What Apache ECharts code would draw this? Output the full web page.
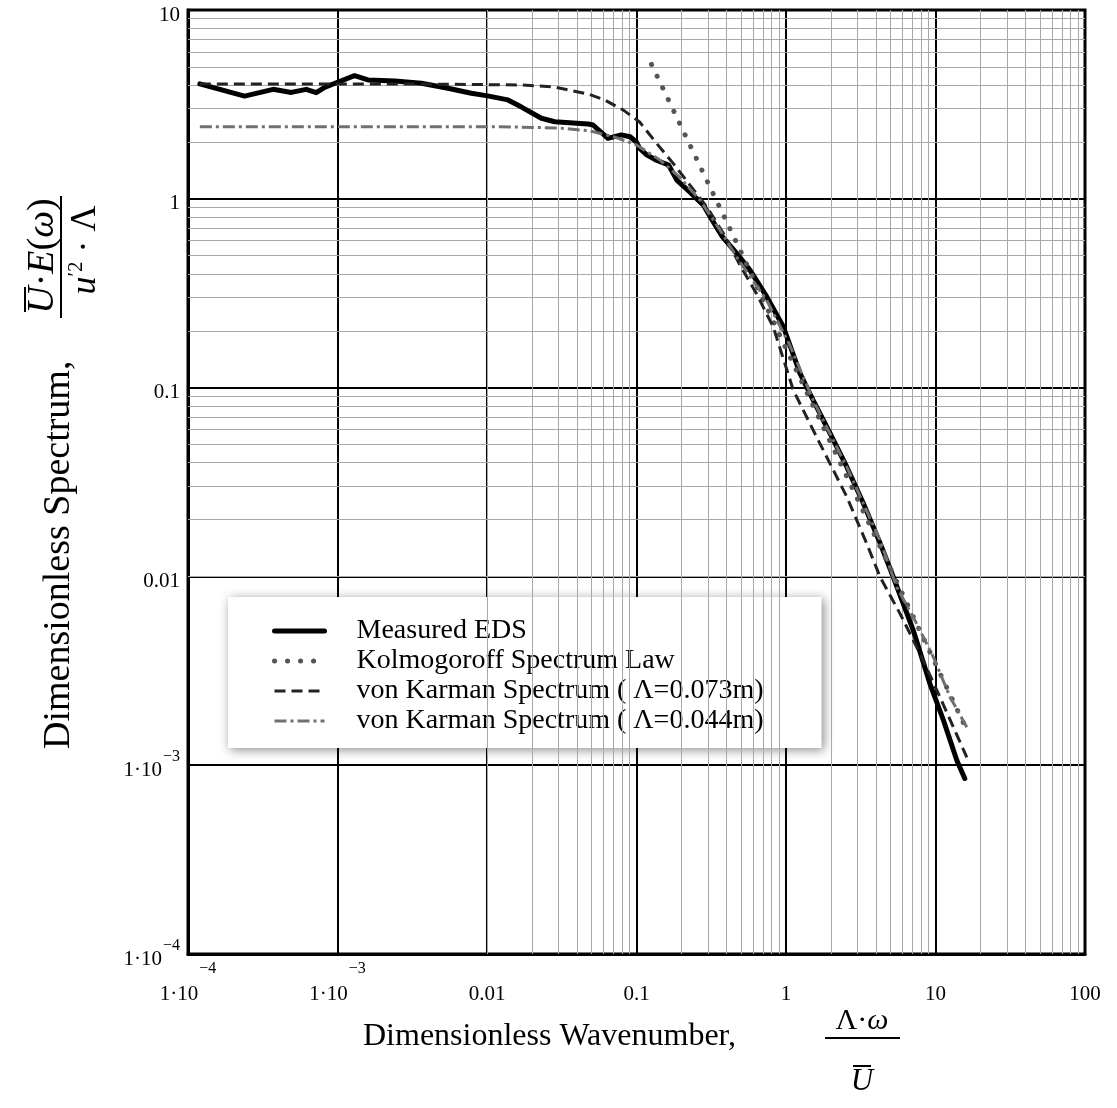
<!DOCTYPE html>
<html><head><meta charset="utf-8">
<script src="https://cdn.jsdelivr.net/npm/echarts@6/dist/echarts.min.js"></script>
<style>html,body{margin:0;padding:0;background:#fff}#c{width:1117px;height:1108px}</style>
</head><body><div id="c"></div>
<script>
// ---------- data ----------
const measuredX = [1.20e-4, 2.39e-4, 3.71e-4, 4.91e-4, 6.18e-4, 7.21e-4, 8.20e-4, 9.82e-4, 1.30e-3, 1.60e-3,
  2.42e-3, 3.64e-3, 5.48e-3, 7.85e-3, 9.88e-3, 0.0138, 0.0169, 0.0231, 0.0284, 0.0474,
  0.0512, 0.0644, 0.0791, 0.0906, 0.0998, 0.105, 0.117, 0.136, 0.164, 0.186,
  0.228, 0.280, 0.311, 0.375, 0.468, 0.574, 0.743, 0.960, 1.24, 1.52,
  1.97, 2.55, 3.29, 4.26, 5.22, 7.10, 9.18, 11.3, 13.9, 15.7];
const measuredY = [4.06, 3.50, 3.80, 3.66, 3.80, 3.65, 3.89, 4.12, 4.49, 4.26,
  4.21, 4.09, 3.85, 3.62, 3.52, 3.34, 3.07, 2.67, 2.56, 2.49,
  2.46, 2.09, 2.18, 2.13, 2.00, 1.85, 1.71, 1.60, 1.51, 1.256,
  1.085, 0.926, 0.803, 0.63, 0.514, 0.419, 0.303, 0.210, 0.119, 0.0857,
  0.0573, 0.0380, 0.0244, 0.0150, 9.93e-3, 5.18e-3, 2.70e-3, 1.73e-3, 1.06e-3, 8.51e-4];

const kolmoX = [0.126, 0.5, 1, 5, 16.0];
const kolmoY = [5.15, 0.523, 0.161, 0.0110, 1.57e-3];

const karman073X = [1.20e-4, 2.62e-3, 0.0166, 0.0284, 0.0474, 0.0612, 0.0817, 0.105, 0.136, 0.176,
  0.228, 0.295, 0.381, 0.492, 0.637, 0.822, 1.12, 1.52, 1.97, 2.55,
  3.47, 4.26, 5.79, 7.87, 10.7, 16.2];
const karman073Y = [4.06, 4.06, 4.01, 3.91, 3.59, 3.34, 2.95, 2.55, 1.97, 1.54,
  1.18, 0.907, 0.656, 0.446, 0.313, 0.209, 0.0968, 0.0595, 0.0396, 0.0264,
  0.0149, 9.93e-3, 6.35e-3, 3.90e-3, 2.30e-3, 1.10e-3];

const karman044X = [1.20e-4, 0.0122, 0.0308, 0.0489, 0.0718, 0.100, 0.144, 0.195, 0.266, 0.362,
  0.492, 0.743, 1.06, 1.52, 2.55, 4.26, 5.50, 7.48, 9.67, 12.5, 16.2];
const karman044Y = [2.41, 2.41, 2.37, 2.29, 2.12, 1.93, 1.60, 1.30, 0.984, 0.682,
  0.462, 0.290, 0.168, 0.0857, 0.0380, 0.0155, 8.79e-3, 5.62e-3, 3.74e-3, 2.30e-3, 1.59e-3];

const seriesNames = ['Measured EDS', 'Kolmogoroff Spectrum Law',
  'von Karman Spectrum ( \u039B=0.073m)', 'von Karman Spectrum ( \u039B=0.044m)'];

const xTickBase = ['1\u00B710', '1\u00B710', '0.01', '0.1', '1', '10', '100'];
const xTickExp  = ['\u22124', '\u22123', '', '', '', '', ''];
const yTickBase = ['1\u00B710', '1\u00B710', '0.01', '0.1', '1', '10'];
const yTickExp  = ['\u22124', '\u22123', '', '', '', ''];

const xTitle = 'Dimensionless Wavenumber,';
const yTitle = 'Dimensionless Spectrum,';

// ---------- chart ----------
const serif = '"Liberation Serif","Times New Roman",serif';
const pairs = (xs, ys) => xs.map((x, i) => [x, ys[i]]);

const minorX = [], minorY = [];
for (let e = -4; e < 2; e++) for (let m = 2; m <= 9; m++) minorX.push({ xAxis: m * Math.pow(10, e) });
for (let e = -4; e < 1; e++) for (let m = 2; m <= 9; m++) minorY.push({ yAxis: m * Math.pow(10, e) });

const chart = echarts.init(document.getElementById('c'), null, { renderer: 'canvas' });

const option = {
  animation: false,
  backgroundColor: '#fff',
  textStyle: { fontFamily: serif },
  grid: { left: 188, right: 32, top: 10, bottom: 154, show: true, borderColor: '#000', borderWidth: 3,
          backgroundColor: 'transparent', containLabel: false, outerBoundsMode: 'none' },
  xAxis: {
    type: 'log', logBase: 10, min: 1e-4, max: 100, splitNumber: 6, z: 2,
    axisLine: { show: true, onZero: false, lineStyle: { color: '#000', width: 3 } },
    axisTick: { show: false },
    splitLine: { show: true, lineStyle: { color: '#000', width: 2 } },
    axisLabel: {
      margin: 18, color: '#000',
      formatter: v => {
        const i = Math.round(Math.log10(v)) + 4;
        const b = xTickBase[i], e = xTickExp[i];
        return e ? '{b|' + b + '}{s|' + e + '}' : '{b|' + b + '}';
      },
      rich: {
        b: { fontFamily: serif, fontSize: 21, lineHeight: 22, padding: [22, 0, 0, 0], color: '#000' },
        s: { fontFamily: serif, fontSize: 16, lineHeight: 16, padding: [0, 0, 28, 1], color: '#000' }
      }
    }
  },
  yAxis: {
    type: 'log', logBase: 10, min: 1e-4, max: 10, splitNumber: 5, z: 2,
    axisLine: { show: true, onZero: false, lineStyle: { color: '#000', width: 3 } },
    axisTick: { show: false },
    splitLine: { show: true, lineStyle: { color: '#000', width: 2 } },
    axisLabel: {
      margin: 8, color: '#000',
      formatter: v => {
        const i = Math.round(Math.log10(v)) + 4;
        const b = yTickBase[i], e = yTickExp[i];
        return e ? '{b|' + b + '}{s|' + e + '}' : '{b|' + b + '}';
      },
      rich: {
        b: { fontFamily: serif, fontSize: 21, lineHeight: 22, padding: [10, 0, 0, 0], color: '#000' },
        s: { fontFamily: serif, fontSize: 16, lineHeight: 16, padding: [0, 0, 16, 1], color: '#000' }
      }
    }
  },
  legend: {
    orient: 'vertical', left: 228, top: 597,
    data: seriesNames,
    itemWidth: 50, itemHeight: 14, itemGap: 2,
    padding: [20, 58, 13, 44],
    backgroundColor: '#fff', borderWidth: 0,
    shadowBlur: 10, shadowColor: 'rgba(0,0,0,0.45)', shadowOffsetX: 2, shadowOffsetY: 2,
    textStyle: { fontFamily: serif, fontSize: 28, color: '#000', padding: [0, 0, 0, 27], lineHeight: 28 },
    lineStyle: { width: 'inherit' },
    itemStyle: { color: 'transparent', borderWidth: 0, opacity: 0 },
    selectedMode: false
  },
  series: [
    {
      name: 'minor-grid', type: 'line', data: [], z: 1, silent: true,
      markLine: {
        silent: true, symbol: 'none', label: { show: false }, animation: false,
        lineStyle: { color: '#a8a8a8', width: 1, type: 'solid' },
        emphasis: { disabled: true },
        data: minorX.concat(minorY)
      }
    },
    {
      name: seriesNames[0], type: 'line', data: pairs(measuredX, measuredY), symbol: 'none', z: 5,
      itemStyle: { color: '#000' },
      lineStyle: { color: '#000', width: 5, cap: 'round', join: 'round' }
    },
    {
      name: seriesNames[1], type: 'line', data: pairs(kolmoX, kolmoY), symbol: 'none', z: 6,
      itemStyle: { color: '#555' },
      lineStyle: { color: '#555', width: 5, type: [0.1, 12.9], cap: 'round' }
    },
    {
      name: seriesNames[2], type: 'line', data: pairs(karman073X, karman073Y), symbol: 'none', z: 7,
      itemStyle: { color: '#222' },
      lineStyle: { color: '#222', width: 3, type: [11, 6] }
    },
    {
      name: seriesNames[3], type: 'line', data: pairs(karman044X, karman044Y), symbol: 'none', z: 8,
      itemStyle: { color: '#707070' },
      lineStyle: { color: '#707070', width: 3, type: [12, 4, 3, 4] }
    }
  ],
  graphic: [
    { type: 'text', x: 363, y: 1037, style: { text: xTitle, fontFamily: serif, fontSize: 32, fill: '#000', align: 'left', verticalAlign: 'middle' } },
    { type: 'text', x: 862, y: 1021, style: { text: '\u039B\u00B7{i|\u03C9}', fontFamily: serif, fontSize: 30, fill: '#000', align: 'center', verticalAlign: 'middle',
      rich: { i: { fontFamily: serif, fontSize: 30, fontStyle: 'italic' } } } },
    { type: 'line', shape: { x1: 825, y1: 1038, x2: 900, y2: 1038 }, style: { stroke: '#000', lineWidth: 2 } },
    { type: 'text', x: 862, y: 1082, style: { text: 'U', fontFamily: serif, fontSize: 31, fontStyle: 'italic', fill: '#000', align: 'center', verticalAlign: 'middle' } },
    { type: 'line', shape: { x1: 853, y1: 1066, x2: 871, y2: 1066 }, style: { stroke: '#000', lineWidth: 2 } },

    { type: 'text', x: 59, y: 749, rotation: Math.PI / 2, style: { text: yTitle, fontFamily: serif, fontSize: 38, fill: '#000', align: 'left', verticalAlign: 'middle' } },
    { type: 'text', x: 43, y: 256, rotation: Math.PI / 2, style: { text: '{i|U}\u00B7{i|E}({i|\u03C9})', fontFamily: serif, fontSize: 38, fill: '#000', align: 'center', verticalAlign: 'middle',
      rich: { i: { fontFamily: serif, fontSize: 38, fontStyle: 'italic' } } } },
    { type: 'line', shape: { x1: 25, y1: 287, x2: 25, y2: 312 }, style: { stroke: '#000', lineWidth: 2 } },
    { type: 'line', shape: { x1: 61, y1: 196, x2: 61, y2: 318 }, style: { stroke: '#000', lineWidth: 2 } },
    { type: 'text', x: 86, y: 250, rotation: Math.PI / 2, style: { text: '{i|u}{s|\u20322} \u00B7 \u039B', fontFamily: serif, fontSize: 36, fill: '#000', align: 'center', verticalAlign: 'middle',
      rich: { i: { fontFamily: serif, fontSize: 36, fontStyle: 'italic' }, s: { fontFamily: serif, fontSize: 21, padding: [0, 0, 20, 0] } } } }
  ]
};
chart.setOption(option);
</script>
</body></html>
